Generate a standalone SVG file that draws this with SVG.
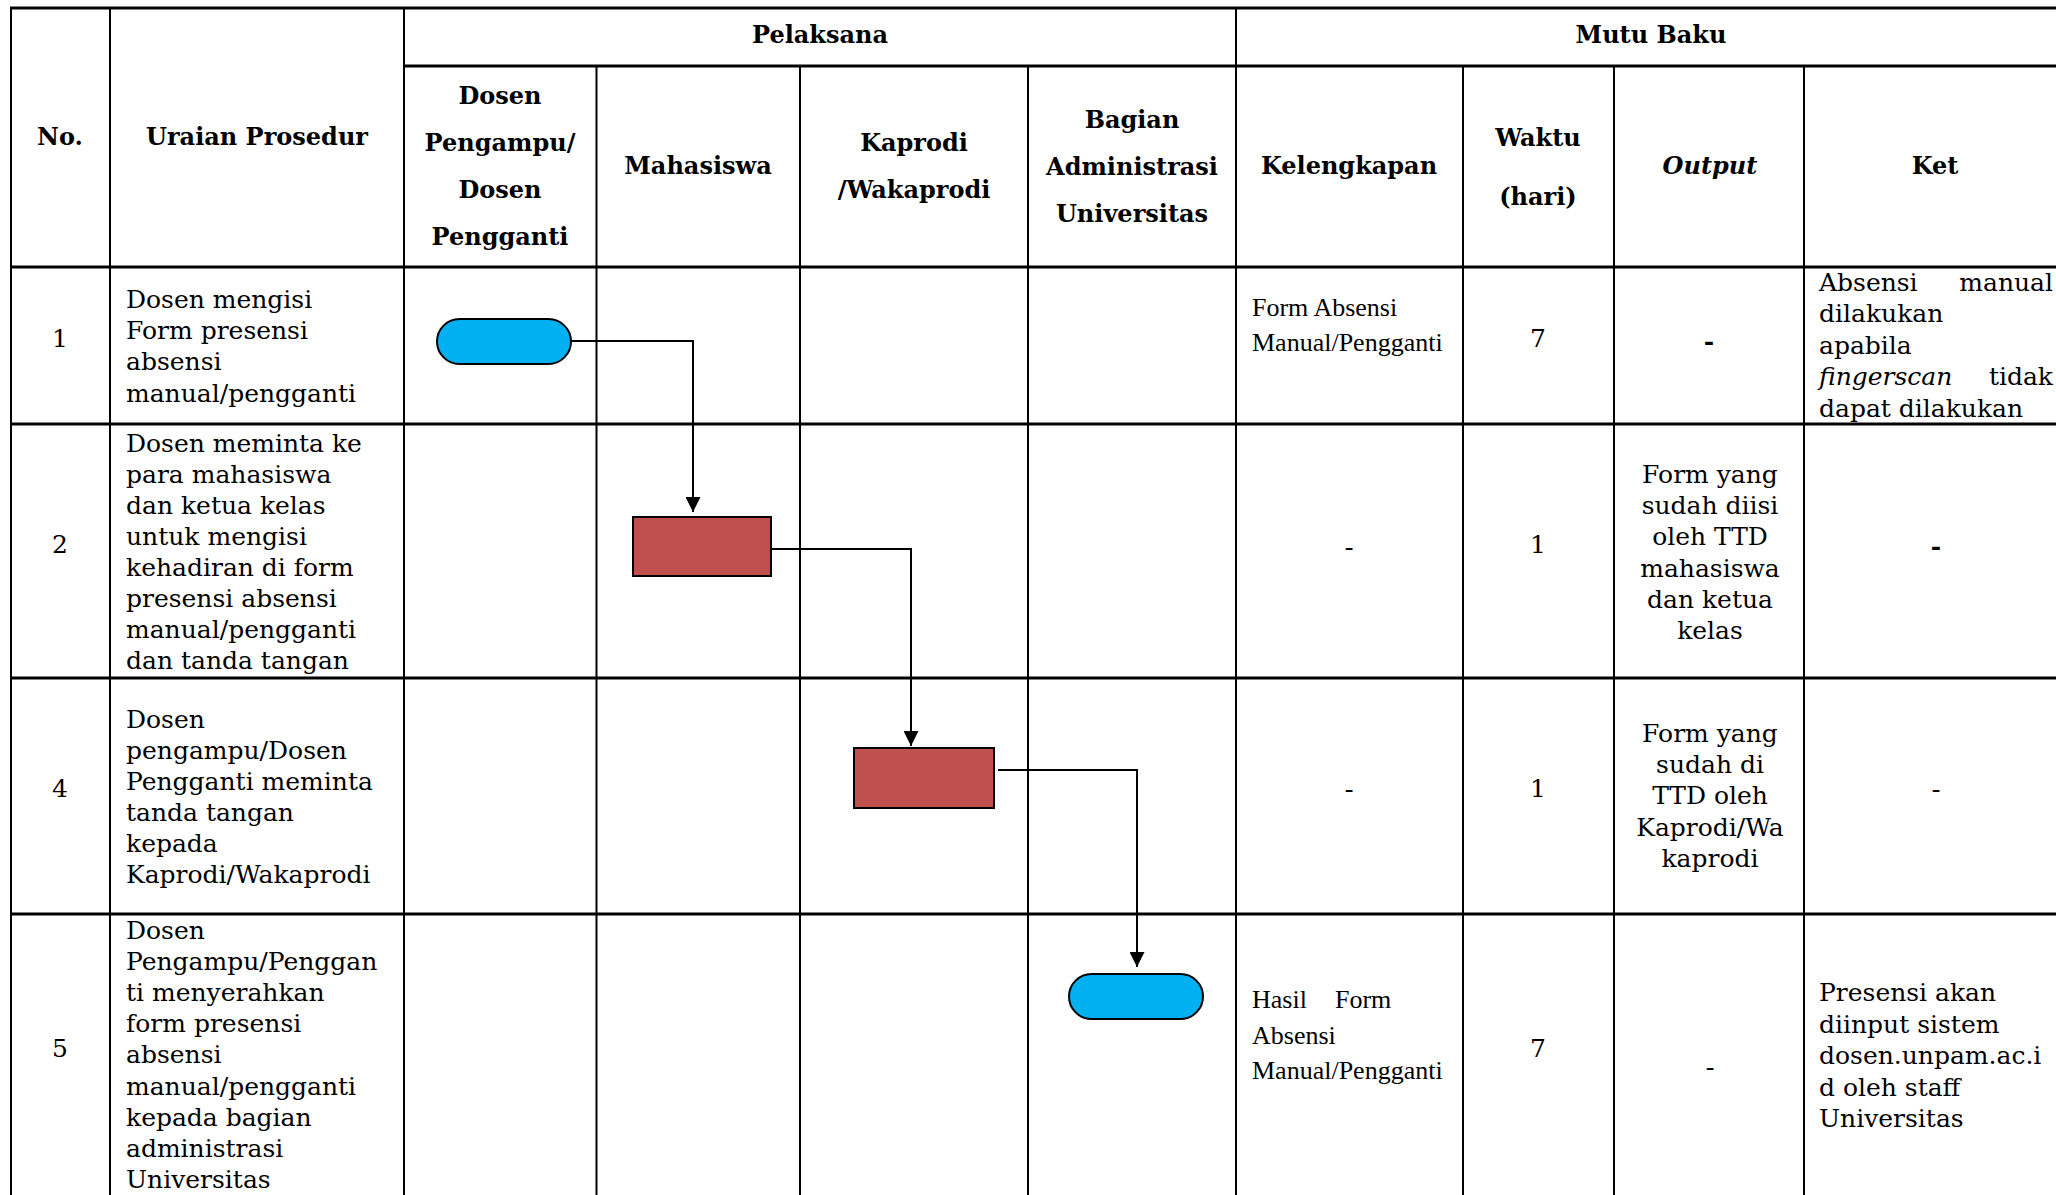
<svg xmlns="http://www.w3.org/2000/svg" width="2056" height="1195" viewBox="0 0 2056 1195">
<defs>
<style>
.h{stroke:#000;stroke-width:3;fill:none}
.v{stroke:#000;stroke-width:2;fill:none}
.hd{font-family:"DejaVu Serif",serif;font-weight:bold;font-size:24px;text-anchor:middle;fill:#000}
.bd{font-family:"DejaVu Serif",serif;font-size:25px;fill:#000}
.tm{font-family:"Liberation Serif",serif;font-size:26px;fill:#000}
.c{text-anchor:middle}
.term{fill:#00B0F0;stroke:#000;stroke-width:2}
.proc{fill:#C0504D;stroke:#000;stroke-width:2}
.conn{stroke:#000;stroke-width:2;fill:none}
</style>
<marker id="arr" viewBox="0 0 10 10" refX="10" refY="5" markerWidth="15" markerHeight="15" markerUnits="userSpaceOnUse" orient="auto">
<path d="M0,0 L10,5 L0,10 z" fill="#000"/>
</marker>
</defs>
<rect width="2056" height="1195" fill="#fff"/>

<g id="grid">
<line class="h" x1="10" y1="8" x2="2056" y2="8"/>
<line class="h" x1="404" y1="66" x2="2056" y2="66"/>
<line class="h" x1="10" y1="267" x2="2056" y2="267"/>
<line class="h" x1="10" y1="424" x2="2056" y2="424"/>
<line class="h" x1="10" y1="678" x2="2056" y2="678"/>
<line class="h" x1="10" y1="914" x2="2056" y2="914"/>
<line class="v" x1="11" y1="7" x2="11" y2="1195"/>
<line class="v" x1="110" y1="7" x2="110" y2="1195"/>
<line class="v" x1="404" y1="7" x2="404" y2="1195"/>
<line class="v" x1="596.5" y1="66" x2="596.5" y2="1195"/>
<line class="v" x1="800" y1="66" x2="800" y2="1195"/>
<line class="v" x1="1028" y1="66" x2="1028" y2="1195"/>
<line class="v" x1="1236" y1="7" x2="1236" y2="1195"/>
<line class="v" x1="1463" y1="66" x2="1463" y2="1195"/>
<line class="v" x1="1614" y1="66" x2="1614" y2="1195"/>
<line class="v" x1="1804" y1="66" x2="1804" y2="1195"/>
</g>

<g id="header">
<text class="hd" x="820" y="43">Pelaksana</text>
<text class="hd" x="1651" y="43">Mutu Baku</text>
<text class="hd" x="60" y="145">No.</text>
<text class="hd" x="257" y="145">Uraian Prosedur</text>
<text class="hd" x="500" y="104">Dosen</text>
<text class="hd" x="500" y="151">Pengampu/</text>
<text class="hd" x="500" y="198">Dosen</text>
<text class="hd" x="500" y="245">Pengganti</text>
<text class="hd" x="698" y="174">Mahasiswa</text>
<text class="hd" x="914" y="151">Kaprodi</text>
<text class="hd" x="914" y="198">/Wakaprodi</text>
<text class="hd" x="1132" y="127.5">Bagian</text>
<text class="hd" x="1132" y="174.5">Administrasi</text>
<text class="hd" x="1132" y="221.5">Universitas</text>
<text class="hd" x="1349" y="174">Kelengkapan</text>
<text class="hd" x="1538" y="146">Waktu</text>
<text class="hd" x="1538" y="205">(hari)</text>
<text class="hd" x="1710" y="174" font-style="italic">Output</text>
<text class="hd" x="1935" y="174">Ket</text>
</g>

<g id="row1">
<text class="bd c" x="60" y="347">1</text>
<text class="bd" x="126" y="308"><tspan x="126" y="308">Dosen mengisi</tspan><tspan x="126" y="339.2">Form presensi</tspan><tspan x="126" y="370.4">absensi</tspan><tspan x="126" y="401.6">manual/pengganti</tspan></text>
<text class="tm" x="1252" y="316"><tspan x="1252" y="316">Form Absensi</tspan><tspan x="1252" y="350.5">Manual/Pengganti</tspan></text>
<text class="bd c" x="1538" y="347">7</text>
<text class="bd c" x="1709" y="349.5" font-weight="bold">-</text>
<text class="bd" x="1819" y="290.5">Absensi</text>
<text class="bd" x="2053" y="290.5" text-anchor="end">manual</text>
<text class="bd" x="1819" y="322">dilakukan</text>
<text class="bd" x="1819" y="353.5">apabila</text>
<text class="bd" x="1819" y="385" font-style="italic">fingerscan</text>
<text class="bd" x="2053" y="385" text-anchor="end">tidak</text>
<text class="bd" x="1819" y="416.5">dapat dilakukan</text>
</g>

<g id="row2">
<text class="bd c" x="60" y="553">2</text>
<text class="bd" x="126" y="452"><tspan x="126" y="452">Dosen meminta ke</tspan><tspan x="126" y="483">para mahasiswa</tspan><tspan x="126" y="514">dan ketua kelas</tspan><tspan x="126" y="545">untuk mengisi</tspan><tspan x="126" y="576">kehadiran di form</tspan><tspan x="126" y="607">presensi absensi</tspan><tspan x="126" y="638">manual/pengganti</tspan><tspan x="126" y="669">dan tanda tangan</tspan></text>
<text class="tm c" x="1349" y="554.5">-</text>
<text class="bd c" x="1538" y="553">1</text>
<text class="bd c" x="1710" y="483"><tspan x="1710" y="483">Form yang</tspan><tspan x="1710" y="514.2">sudah diisi</tspan><tspan x="1710" y="545.4">oleh TTD</tspan><tspan x="1710" y="576.6">mahasiswa</tspan><tspan x="1710" y="607.8">dan ketua</tspan><tspan x="1710" y="639">kelas</tspan></text>
<text class="bd c" x="1936" y="555" font-weight="bold">-</text>
</g>

<g id="row4">
<text class="bd c" x="60" y="797">4</text>
<text class="bd" x="126" y="728"><tspan x="126" y="728">Dosen</tspan><tspan x="126" y="759">pengampu/Dosen</tspan><tspan x="126" y="790">Pengganti meminta</tspan><tspan x="126" y="821">tanda tangan</tspan><tspan x="126" y="852">kepada</tspan><tspan x="126" y="883">Kaprodi/Wakaprodi</tspan></text>
<text class="tm c" x="1349" y="797">-</text>
<text class="bd c" x="1538" y="796.5">1</text>
<text class="bd c" x="1710" y="742"><tspan x="1710" y="742">Form yang</tspan><tspan x="1710" y="773.2">sudah di</tspan><tspan x="1710" y="804.4">TTD oleh</tspan><tspan x="1710" y="835.6">Kaprodi/Wa</tspan><tspan x="1710" y="866.8">kaprodi</tspan></text>
<text class="tm c" x="1936" y="797">-</text>
</g>

<g id="row5">
<text class="bd c" x="60" y="1057">5</text>
<text class="bd" x="126" y="939"><tspan x="126" y="939">Dosen</tspan><tspan x="126" y="970">Pengampu/Penggan</tspan><tspan x="126" y="1001">ti menyerahkan</tspan><tspan x="126" y="1032">form presensi</tspan><tspan x="126" y="1063">absensi</tspan><tspan x="126" y="1095">manual/pengganti</tspan><tspan x="126" y="1126">kepada bagian</tspan><tspan x="126" y="1157">administrasi</tspan><tspan x="126" y="1188">Universitas</tspan></text>
<text class="tm" x="1252" y="1008"><tspan x="1252" y="1008">Hasil</tspan><tspan x="1335" y="1008">Form</tspan><tspan x="1252" y="1043.5">Absensi</tspan><tspan x="1252" y="1079">Manual/Pengganti</tspan></text>
<text class="bd c" x="1538" y="1057">7</text>
<text class="tm c" x="1710" y="1075">-</text>
<text class="bd" x="1819" y="1001"><tspan x="1819" y="1001">Presensi akan</tspan><tspan x="1819" y="1032.5">diinput sistem</tspan><tspan x="1819" y="1064">dosen.unpam.ac.i</tspan><tspan x="1819" y="1095.5">d oleh staff</tspan><tspan x="1819" y="1127">Universitas</tspan></text>
</g>

<g id="node-start">
<rect class="term" x="437" y="319" width="134" height="45" rx="22.5" ry="22.5"/>
</g>
<g id="node-mahasiswa">
<rect class="proc" x="633" y="517" width="138" height="59"/>
</g>
<g id="node-kaprodi">
<rect class="proc" x="854" y="748" width="140" height="60"/>
</g>
<g id="node-end">
<rect class="term" x="1069" y="974" width="134" height="45" rx="22.5" ry="22.5"/>
</g>

<g id="connectors">
<polyline class="conn" points="571,341 693,341 693,512" marker-end="url(#arr)"/>
<polyline class="conn" points="771,549 911,549 911,746" marker-end="url(#arr)"/>
<polyline class="conn" points="998,770 1137,770 1137,967" marker-end="url(#arr)"/>
</g>
</svg>
